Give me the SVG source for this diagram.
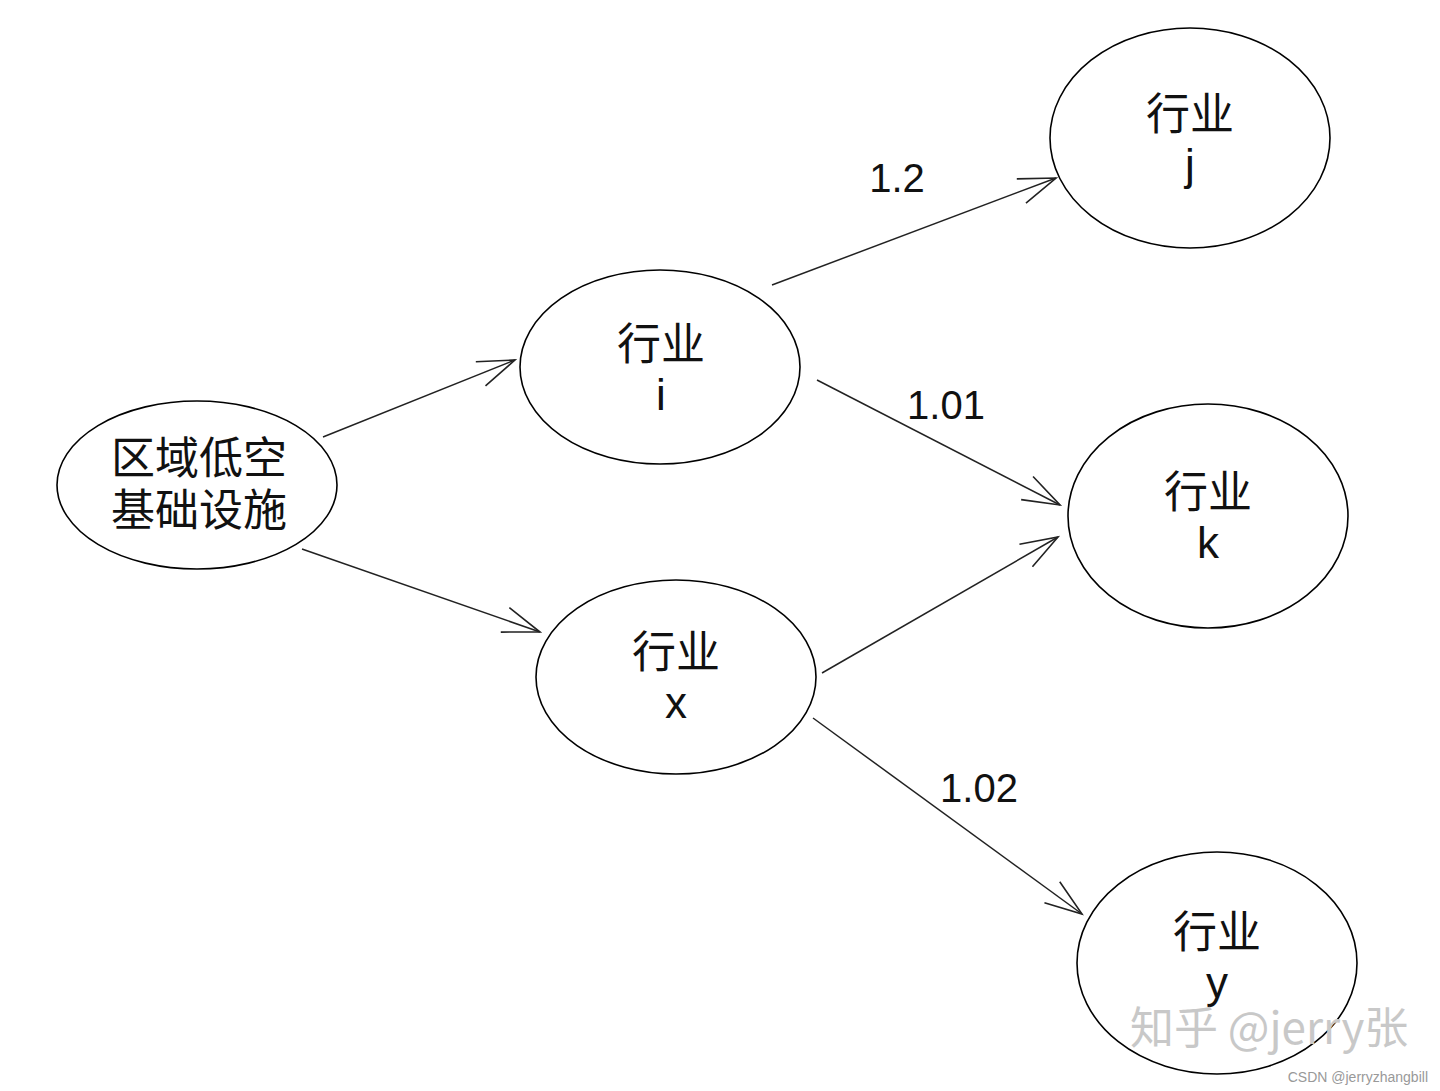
<svg xmlns="http://www.w3.org/2000/svg" width="1440" height="1091" viewBox="0 0 1440 1091">
<style>
.n{fill:#fff;stroke:#000;stroke-width:1.6}
.t{font-family:"Liberation Sans","Noto Sans CJK SC",sans-serif;font-size:44px;fill:#111;text-anchor:middle}
.l{font-family:"Liberation Sans","Noto Sans CJK SC",sans-serif;font-size:40px;fill:#111;text-anchor:middle}
.e{stroke:#222;stroke-width:1.5;fill:none}
.wm{font-family:"Noto Sans CJK SC","Liberation Sans",sans-serif;fill:#c8c8c8}
</style>
<defs>
<marker id="arr" markerUnits="userSpaceOnUse" markerWidth="50" markerHeight="40" refX="0" refY="0" viewBox="-40 -20 50 40" orient="auto" overflow="visible">
<path d="M-37,-13 L0,0 L-37,13" fill="none" stroke="#222" stroke-width="1.6"/>
</marker>
</defs>
<rect width="1440" height="1091" fill="#fff"/>
<g id="connectors">
<line class="e" x1="323" y1="437" x2="515" y2="360" marker-end="url(#arr)"/>
<line class="e" x1="302" y1="549" x2="540" y2="632" marker-end="url(#arr)"/>
<line class="e" x1="772" y1="285" x2="1056" y2="178" marker-end="url(#arr)"/>
<line class="e" x1="817" y1="380" x2="1060" y2="505" marker-end="url(#arr)"/>
<line class="e" x1="822" y1="673" x2="1058" y2="537" marker-end="url(#arr)"/>
<line class="e" x1="813" y1="718" x2="1082" y2="914" marker-end="url(#arr)"/>
<text class="l" x="897" y="192">1.2</text>
<text class="l" x="946" y="419">1.01</text>
<text class="l" x="979" y="802">1.02</text>
</g>
<g id="node-src">
<ellipse class="n" cx="197" cy="485" rx="140" ry="84"/>
<text class="t" x="199" y="474">区域低空</text>
<text class="t" x="199" y="526">基础设施</text>
</g>
<g id="node-i">
<ellipse class="n" cx="660" cy="367" rx="140" ry="97"/>
<text class="t" x="661" y="360">行业</text>
<text class="t" x="661" y="410">i</text>
</g>
<g id="node-x">
<ellipse class="n" cx="676" cy="677" rx="140" ry="97"/>
<text class="t" x="676" y="668">行业</text>
<text class="t" x="676" y="718">x</text>
</g>
<g id="node-j">
<ellipse class="n" cx="1190" cy="138" rx="140" ry="110"/>
<text class="t" x="1190" y="130">行业</text>
<text class="t" x="1190" y="180">j</text>
</g>
<g id="node-k">
<ellipse class="n" cx="1208" cy="516" rx="140" ry="112"/>
<text class="t" x="1208" y="508">行业</text>
<text class="t" x="1208" y="558">k</text>
</g>
<g id="node-y">
<ellipse class="n" cx="1217" cy="963" rx="140" ry="111"/>
<text class="t" x="1217" y="948">行业</text>
<text class="t" x="1217" y="998">y</text>
</g>
<g id="watermark">
<text class="wm" x="1130" y="1044" font-size="44">知乎 @jerry张</text>
<text x="1428" y="1082" font-family="Liberation Sans,sans-serif" font-size="14" fill="#999" text-anchor="end">CSDN @jerryzhangbill</text>
</g>
</svg>
